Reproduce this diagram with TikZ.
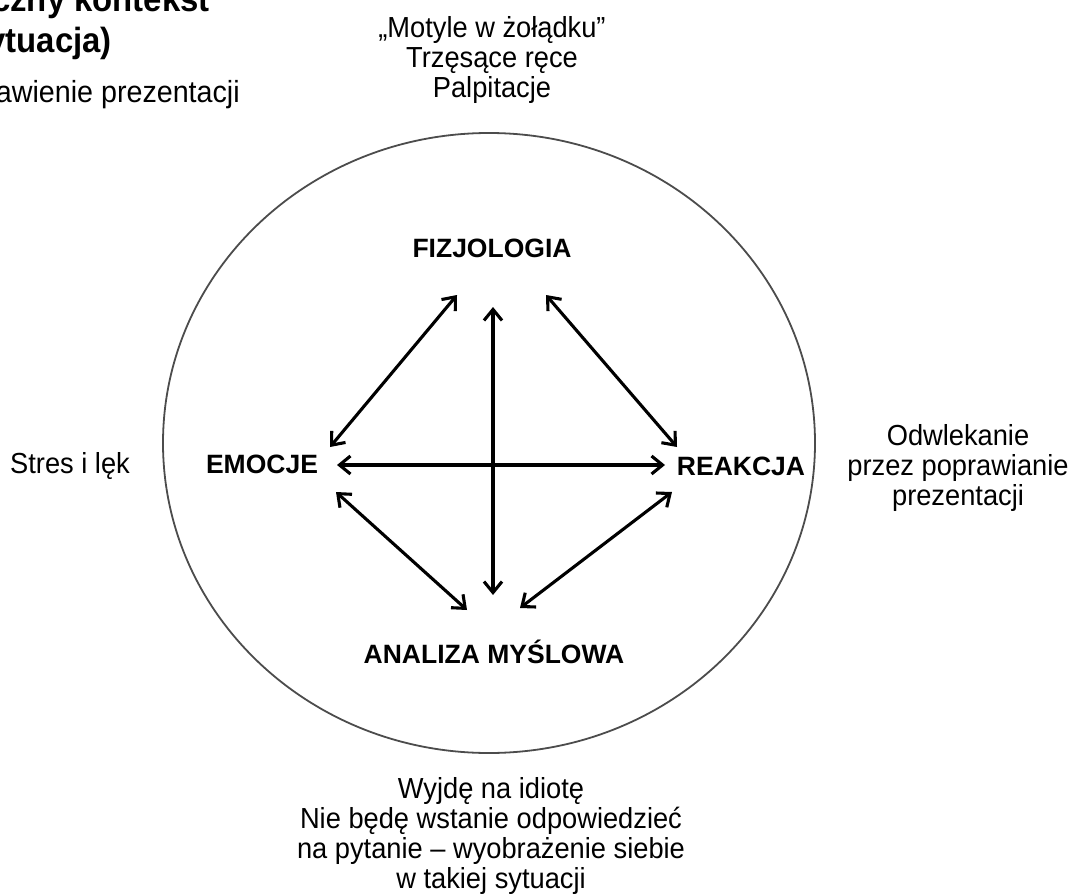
\documentclass[tikz,border=0pt]{standalone}
\usepackage{fontspec}
\setmainfont{Liberation Sans}
\newfontfamily\narrowfont{Liberation Sans}[FakeStretch=0.94]
\usetikzlibrary{arrows.meta}
\begin{document}
\begin{tikzpicture}[x=1pt,y=-1pt,
  txt/.style={font=\narrowfont\fontsize{29}{30}\selectfont, inner sep=0pt, align=center},
  cuttxt/.style={font=\narrowfont\fontsize{30.5}{30}\selectfont, inner sep=0pt},
  lbl/.style={font=\fontsize{26.5}{30}\selectfont\bfseries, inner sep=0pt},
  ctxbold/.style={font=\narrowfont\fontsize{35}{40}\selectfont\bfseries, inner sep=0pt},
  biarrow/.style={line width=3.1pt, {Straight Barb[length=11pt,width=18pt]}-{Straight Barb[length=11pt,width=18pt]}},
  ring/.style={line width=1.8pt, draw=black!70}]
\useasboundingbox (0,0) rectangle (1070,896);
\draw[ring] (489,443) ellipse [x radius=326, y radius=310];
% labels
\node[lbl, anchor=base] (fiz) at (492,257) {FIZJOLOGIA};
\node[lbl, anchor=base] (emo) at (262,473) {EMOCJE};
\node[lbl, anchor=base] (rea) at (741,475) {REAKCJA};
\node[lbl, anchor=base] (ana) at (494,663) {ANALIZA MYŚLOWA};
% outer texts
\node[txt, anchor=north] (top) at (492,16) {„Motyle w żołądku”\\Trzęsące ręce\\Palpitacje};
\node[txt, anchor=north] (right) at (958,424) {Odwlekanie\\przez poprawianie\\prezentacji};
\node[txt, anchor=base] (left) at (70,473) {Stres i lęk};
\node[txt, anchor=north] (bottom) at (491,777) {Wyjdę na idiotę\\Nie będę wstanie odpowiedzieć\\na pytanie – wyobrażenie siebie\\w takiej sytuacji};
% cut-off top-left text
\node[ctxbold, anchor=base east] (ctx1) at (210,12) {czny kontekst};
\node[ctxbold, anchor=base east] (ctx2) at (112,53) {ytuacja)};
\node[cuttxt, anchor=base east] (ctx3) at (240,103) {awienie prezentacji};
% arrow end points
\coordinate (v1) at (493,307); \coordinate (v2) at (493,595);
\coordinate (h1) at (337,465); \coordinate (h2) at (665,465);
\coordinate (a1) at (457,295); \coordinate (a2) at (330,447);
\coordinate (b1) at (546,295); \coordinate (b2) at (677,447);
\coordinate (c1) at (336,492); \coordinate (c2) at (467,610);
\coordinate (d1) at (672,492); \coordinate (d2) at (520,608);
\draw[biarrow] (v1) -- (v2);
\draw[biarrow] (h1) -- (h2);
\draw[biarrow] (a1) -- (a2);
\draw[biarrow] (b1) -- (b2);
\draw[biarrow] (c1) -- (c2);
\draw[biarrow] (d1) -- (d2);
\end{tikzpicture}
\end{document}
